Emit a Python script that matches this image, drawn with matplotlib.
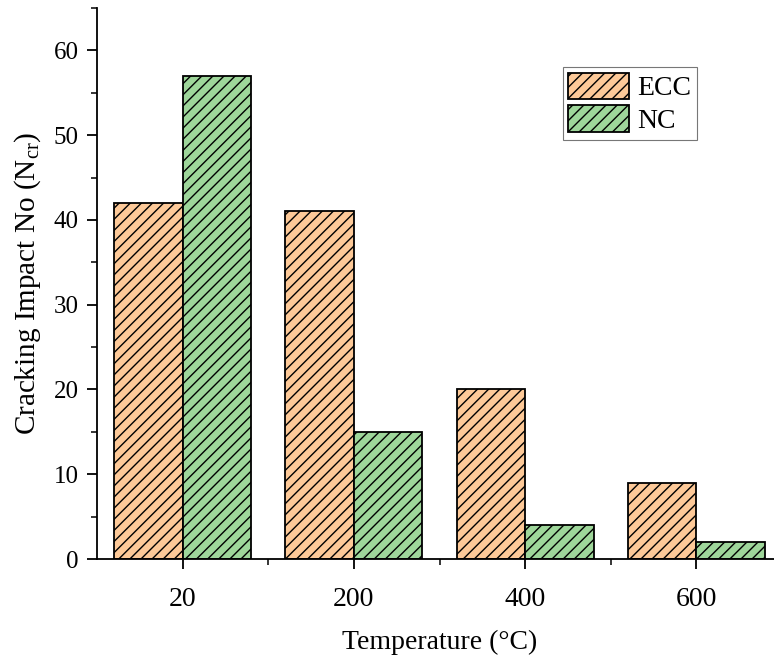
import matplotlib.pyplot as plt
import numpy as np
from matplotlib.ticker import MultipleLocator, FixedLocator

plt.rcParams['font.family'] = ['Liberation Serif', 'DejaVu Serif']
plt.rcParams['hatch.linewidth'] = 1.0
plt.rcParams['mathtext.fontset'] = 'custom'
plt.rcParams['mathtext.rm'] = 'Liberation Serif'
plt.rcParams['mathtext.it'] = 'Liberation Serif'

temperatures = ['20', '200', '400', '600']
ecc = [42, 41, 20, 9]
nc = [57, 15, 4, 2]

x = np.arange(len(temperatures))
w = 0.4

fig = plt.figure(figsize=(7.74, 6.61), dpi=100)
ax = fig.add_axes([97 / 774, 102 / 661, 685 / 774, 551 / 661])

ax.bar(x - w / 2, ecc, w, color='#FDC998', edgecolor='black', linewidth=1.3,
       hatch='///', label='ECC')
ax.bar(x + w / 2, nc, w, color='#9ED69A', edgecolor='black', linewidth=1.3,
       hatch='///', label='NC')

ax.set_xlim(-0.5, 3.5)
ax.set_ylim(0, 65)
ax.set_xticks(x)
ax.set_xticklabels(temperatures)
ax.xaxis.set_minor_locator(FixedLocator(x[:-1] + 0.5))
ax.yaxis.set_major_locator(MultipleLocator(10))
ax.yaxis.set_minor_locator(MultipleLocator(5))

for s in ['top', 'right']:
    ax.spines[s].set_visible(False)
for s in ['left', 'bottom']:
    ax.spines[s].set_linewidth(1.3)

ax.tick_params(which='major', direction='out', length=7, width=1.3)
ax.tick_params(which='minor', direction='out', length=4, width=1.1)
ax.tick_params(axis='x', labelsize=20, pad=13)
ax.tick_params(axis='y', labelsize=18, pad=6)

ax.set_xlabel('Temperature (°C)', fontsize=20, labelpad=13)
ax.set_ylabel('Cracking Impact No (N$_{\\mathrm{cr}}$)', fontsize=21, labelpad=8)

leg = ax.legend(loc='upper right', bbox_to_anchor=(0.876, 0.893), fontsize=20,
                frameon=True, fancybox=False, edgecolor='#555555',
                handlelength=2.2, handleheight=1.1, handletextpad=0.3,
                borderpad=0.2, labelspacing=0.15, borderaxespad=0)
leg.get_frame().set_linewidth(0.8)

fig.savefig('out.png', dpi=100)
